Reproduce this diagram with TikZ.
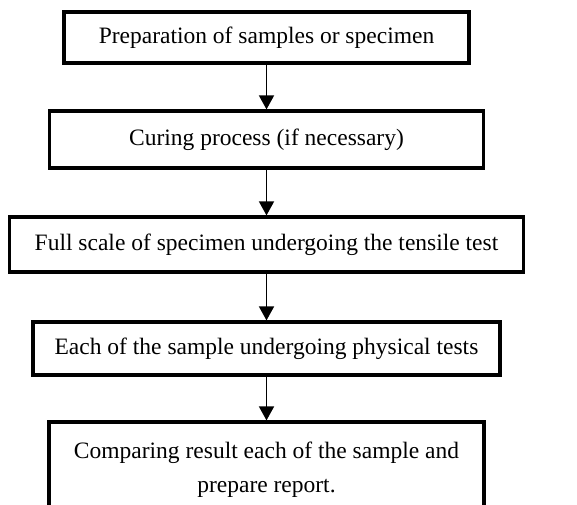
\documentclass[tikz,border=0pt]{standalone}
\usepackage{fontspec}
\setmainfont{Liberation Serif}
\usetikzlibrary{positioning}
\usetikzlibrary{shapes,calc,arrows.meta}
\tikzset{
  x=1pt, y=-1pt,
  stage/.style = {rectangle, draw, line width=3.2pt, align=center,
   font=\fontsize{23.5}{34}\selectfont, inner sep=2pt},
}

\begin{document}
\begin{tikzpicture}[->,>={Triangle[length=14pt,width=15pt]},line width=1.6pt]
\clip (0,0) rectangle (577,504);
\node at(266.5,37.5) (prep) [stage, minimum width=405pt, minimum height=51pt] {Preparation of samples or specimen};
\node at(266.5,139.5) (cure) [stage, minimum width=434pt, minimum height=57pt] {Curing process (if necessary)};
\node at(266.5,244.5) (tens) [stage, minimum width=514pt, minimum height=55pt] {Full scale of specimen undergoing the tensile test};
\node at(266.5,348.5) (phys) [stage, minimum width=467pt, minimum height=53pt] {Each of the sample undergoing physical tests};
\node at(266.5,470) (comp) [stage, minimum width=435pt, minimum height=96pt] {Comparing result each of the sample and\\prepare report.};
\path (prep) edge (cure);
\path (cure) edge (tens);
\path (tens) edge (phys);
\path (phys) edge (comp);
\end{tikzpicture}
\end{document}
